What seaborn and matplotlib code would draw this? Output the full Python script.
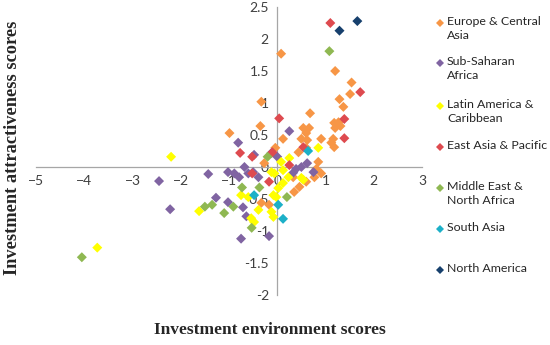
import matplotlib
matplotlib.use("Agg")
import matplotlib.pyplot as plt
import seaborn as sns
import pandas as pd
from matplotlib.lines import Line2D

# ---------------- data ----------------
regions = ["Europe & Central Asia", "Sub-Saharan Africa", "Latin America & Caribbean",
           "East Asia & Pacific", "Middle East & North Africa", "South Asia", "North America"]
legend_labels = ["Europe & Central\nAsia", "Sub-Saharan\nAfrica", "Latin America &\nCaribbean",
                 "East Asia & Pacific", "Middle East &\nNorth Africa", "South Asia", "North America"]
colors = ["#F79646", "#8064A2", "#FFFF00", "#DE4A4F", "#8FB852", "#1CB0C8", "#17406D"]

eca_x = [0.08, 1.20, 1.54, 1.51, 1.29, 1.37, -0.33, 0.68, -0.35, -0.99, 0.12, 0.50, 0.60, 0.66, 0.54,
         0.62, 0.91, 1.16, 1.18, 1.27, 1.31, 1.20, 1.18, -0.04, 0.44, 0.60, 1.12, 0.85, 0.81, 0.91,
         0.77, 0.60, 0.46, 0.35, -0.27, -0.33, -0.17, 0.33]
eca_y = [1.77, 1.50, 1.32, 1.14, 1.06, 0.94, 1.02, 0.84, 0.64, 0.53, 0.44, 0.44, 0.53, 0.61, 0.61,
         0.42, 0.44, 0.44, 0.69, 0.70, 0.64, 0.61, 0.31, 0.30, 0.23, 0.30, 0.38, 0.08, -0.03, -0.10,
         -0.16, -0.23, -0.31, -0.39, 0.06, -0.56, -0.59, -0.16]

ssa_x = [0.25, -0.81, -2.45, -2.22, -1.43, -1.02, -0.89, -0.79, -0.68, -0.60, -0.50, -0.39, 0.00,
         -0.12, 0.33, 0.39, 0.50, 0.62, 0.75, -1.27, -1.02, -0.71, -0.64, -0.75, -0.17, -0.48]
ssa_y = [0.56, 0.38, -0.22, -0.66, -0.11, -0.08, -0.10, -0.16, 0.00, -0.10, -0.08, -0.16, 0.16,
         0.22, -0.09, -0.03, 0.00, 0.06, -0.08, -0.48, -0.55, -0.63, -0.77, -1.12, -1.08, 0.19]

lac_x = [-2.20, -3.73, -1.62, -0.75, -0.60, -0.54, -0.48, -0.39, -0.12, -0.06, 0.08, 0.23, 0.12,
         0.02, -0.08, -0.12, -0.08, 0.85, 0.54, 0.25, 0.12, 0.50, -0.02]
lac_y = [0.16, -1.26, -0.69, -0.44, -0.47, -0.80, -0.86, -0.67, -0.08, -0.10, 0.08, -0.16, -0.25,
         -0.33, -0.44, -0.70, -0.78, 0.30, -0.20, 0.14, -0.05, -0.17, -0.47]

eap_x = [1.10, 1.72, 0.04, 1.39, 1.39, -0.77, -0.52, -0.52, -0.17, -0.10, 0.25, 0.54]
eap_y = [2.25, 1.17, 0.76, 0.75, 0.45, 0.22, 0.16, -0.10, -0.23, 0.23, 0.03, 0.31]

mena_x = [1.08, -4.05, -1.50, -1.35, -1.10, -0.91, -0.73, -0.37, -0.53, 0.20, -0.20]
mena_y = [1.81, -1.41, -0.62, -0.59, -0.72, -0.62, -0.32, -0.32, -0.95, -0.47, 0.16]

sa_x = [0.64, 0.02, 0.12, -0.48]
sa_y = [0.25, -0.59, -0.81, -0.44]

na_x = [1.66, 1.29]
na_y = [2.28, 2.13]

xs = [eca_x, ssa_x, lac_x, eap_x, mena_x, sa_x, na_x]
ys = [eca_y, ssa_y, lac_y, eap_y, mena_y, sa_y, na_y]

x_ticks = [-5, -4, -3, -2, -1, 0, 1, 2, 3]
y_ticks = [-2, -1.5, -1, -0.5, 0, 0.5, 1, 1.5, 2, 2.5]
y_ticklabels = ["-2", "-1.5", "-1", "-0.5", "0", "0.5", "1", "1.5", "2", "2.5"]

df = pd.concat([pd.DataFrame({"x": x, "y": y, "region": r}) for x, y, r in zip(xs, ys, regions)],
               ignore_index=True)

# ---------------- plot ----------------
sns.set_style("white")
plt.rcParams["font.family"] = ["Lato", "DejaVu Sans"]

fig = plt.figure(figsize=(5.5, 3.45), dpi=100)
ax = fig.add_axes([36 / 550, 50 / 345, 386 / 550, 288 / 345])

sns.scatterplot(data=df, x="x", y="y", hue="region", hue_order=regions,
                palette=dict(zip(regions, colors)), marker="D", s=26, linewidth=0,
                legend=False, ax=ax, zorder=3)

ax.set_xlim(-5, 3)
ax.set_ylim(-2, 2.5)
ax.set_xticks(x_ticks)
ax.set_yticks(y_ticks)
ax.set_yticklabels(y_ticklabels)
ax.set_xlabel("")
ax.set_ylabel("")

for side in ["top", "right"]:
    ax.spines[side].set_visible(False)
for side in ["left", "bottom"]:
    ax.spines[side].set_position(("data", 0))
    ax.spines[side].set_color("#A6A6A6")
    ax.spines[side].set_linewidth(0.9)
ax.set_facecolor("none")
ax.tick_params(axis="both", direction="out", length=4, width=0.9, color="#A6A6A6",
               labelsize=10, labelcolor="#404040", pad=2)
ax.grid(False)

fig.text(270 / 550, 1 - 330 / 345, "Investment environment scores", ha="center", va="center",
         fontsize=12.5, fontweight="bold", family="Liberation Serif")
fig.text(13 / 550, 1 - 148 / 345, "Investment attractiveness scores", ha="center", va="center",
         rotation=90, fontsize=13.2, fontweight="bold", family="Liberation Serif")

# manual legend, Excel-style
first_line_y = [23, 63, 106, 147, 188, 229, 270]
for lab, col, yy in zip(legend_labels, colors, first_line_y):
    fy = 1 - yy / 345
    fig.add_artist(Line2D([440 / 550], [fy], marker="D", markersize=4.2, color=col,
                          markeredgewidth=0, linestyle="none", transform=fig.transFigure))
    fig.text(447 / 550, fy + 7 / 345, lab, ha="left", va="top", fontsize=8.9, color="#262626",
             linespacing=1.3)

fig.savefig("out.png", dpi=100)
